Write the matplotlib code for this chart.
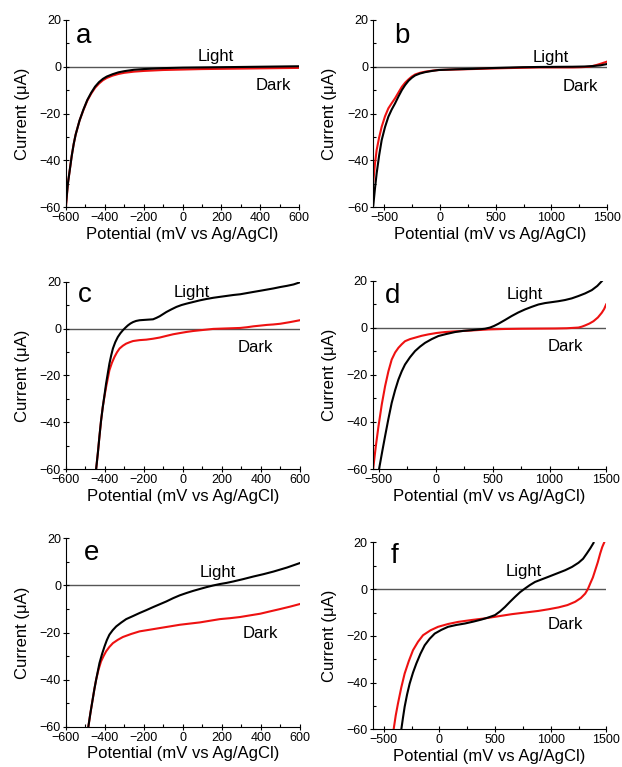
import numpy as np
import matplotlib
matplotlib.use('Agg')
import matplotlib.pyplot as plt
from matplotlib.ticker import MultipleLocator

plt.rcParams['font.family'] = ['Liberation Sans', 'DejaVu Sans']

# a
a_light_x = [-600, -590, -580, -570, -560, -550, -530, -510, -490, -470, -450, -430, -410, -390, -360, -330, -300, -250, -200, -100, 0, 100, 200, 300, 400, 500, 600]
a_light_y = [-59, -50, -44, -38, -33, -29, -23, -18.3, -14.2, -11.1, -8.5, -6.6, -5.2, -4.2, -3.2, -2.4, -1.9, -1.3, -1.0, -0.6, -0.4, -0.3, -0.2, -0.1, 0.0, 0.1, 0.2]
a_dark_x = [-600, -590, -580, -570, -560, -550, -530, -510, -490, -470, -450, -430, -410, -390, -360, -330, -300, -250, -200, -100, 0, 100, 200, 300, 400, 500, 600]
a_dark_y = [-60, -50, -44, -38, -33, -29, -23, -18.5, -14.5, -11.5, -9, -7.2, -5.8, -4.8, -3.8, -3.1, -2.6, -2.1, -1.8, -1.4, -1.2, -1.0, -0.9, -0.8, -0.7, -0.6, -0.5]

# b
b_light_x = [-599, -584, -569, -547, -524, -494, -464, -434, -404, -373, -343, -313, -283, -253, -223, -180, -132, -72, -12, 139, 289, 440, 590, 740, 891, 1040, 1192, 1300, 1373, 1440, 1494]
b_light_y = [-59.2, -52, -45.6, -38, -31.4, -25.8, -21.4, -18.3, -15.7, -12.7, -10, -7.8, -6, -4.7, -3.7, -2.9, -2.3, -1.8, -1.4, -1.1, -0.9, -0.6, -0.4, -0.2, -0.1, -0.05, 0, 0.1, 0.3, 0.6, 1.1]
b_dark_x = [-599, -584, -569, -547, -524, -494, -464, -434, -404, -373, -343, -313, -283, -253, -223, -180, -132, -72, -12, 139, 289, 440, 590, 740, 891, 1040, 1192, 1270, 1343, 1403, 1450, 1494]
b_dark_y = [-49, -41.5, -35.6, -30.3, -25.7, -21.2, -17.8, -15.6, -13.5, -11.0, -8.6, -6.8, -5.4, -4.2, -3.3, -2.6, -2.1, -1.7, -1.4, -1.2, -1.0, -0.8, -0.6, -0.45, -0.3, -0.3, -0.3, -0.2, 0, 0.7, 1.4, 2.1]

# c
c_light_x = [-445, -436, -428, -420, -411, -402, -394, -385, -377, -368, -359, -347, -334, -321, -308, -295, -282, -269, -256, -240, -222, -205, -188, -170, -153, -136, -119, -102, -85, -60, -33, -7, 19, 53, 87, 122, 156, 190, 225, 260, 294, 328, 362, 397, 431, 465, 500, 534, 568, 600]
c_light_y = [-60, -53, -46, -39.5, -33.5, -28.3, -23.5, -19, -15, -11.5, -8.5, -5.8, -3.6, -2, -0.7, 0.4, 1.4, 2.2, 2.8, 3.3, 3.6, 3.7, 3.8, 3.9, 4.0, 4.6, 5.3, 6.2, 7.1, 8.2, 9.3, 10.1, 10.7, 11.4, 12.1, 12.7, 13.2, 13.6, 14.0, 14.4, 14.7, 15.2, 15.7, 16.2, 16.7, 17.2, 17.8, 18.3, 18.9, 19.8]
c_dark_x = [-445, -436, -428, -420, -411, -402, -394, -385, -377, -364, -351, -338, -325, -308, -291, -273, -256, -222, -188, -153, -119, -85, -50, -16, 19, 53, 87, 122, 156, 190, 225, 260, 294, 328, 362, 397, 431, 465, 500, 550, 600]
c_dark_y = [-60, -53, -46, -39.5, -33.5, -28.8, -25, -21.2, -17.8, -14.6, -12.1, -10.1, -8.5, -7.3, -6.4, -5.8, -5.3, -4.9, -4.7, -4.3, -3.8, -3.1, -2.4, -1.9, -1.4, -1.0, -0.7, -0.4, -0.1, 0.0, 0.1, 0.2, 0.3, 0.6, 1.0, 1.3, 1.6, 1.8, 2.1, 2.8, 3.6]

# d
d_light_x = [-498, -470, -445, -416, -387, -357, -328, -299, -270, -226, -182, -138, -94, -35, 23, 96, 170, 243, 316, 375, 433, 477, 513, 550, 608, 667, 725, 784, 843, 902, 960, 1019, 1078, 1136, 1195, 1254, 1312, 1371, 1420, 1459]
d_light_y = [-60, -52.5, -46, -38.7, -31.9, -26.5, -22, -18.5, -15.6, -12.5, -9.9, -8.0, -6.4, -4.8, -3.5, -2.6, -1.8, -1.3, -1.0, -0.7, -0.4, 0.1, 0.8, 1.7, 3.3, 5.0, 6.5, 7.8, 8.9, 9.9, 10.5, 10.9, 11.3, 11.8, 12.5, 13.5, 14.6, 16.0, 17.8, 19.8]
d_dark_x = [-550, -527, -503, -474, -445, -416, -387, -357, -328, -299, -270, -226, -182, -124, -65, 8, 82, 170, 258, 360, 463, 610, 756, 900, 1049, 1150, 1254, 1285, 1312, 1350, 1386, 1425, 1459, 1480, 1497]
d_dark_y = [-60, -50.5, -41.8, -32.5, -24.8, -18.5, -13.5, -10.5, -8.5, -7.0, -5.7, -4.8, -4.2, -3.4, -2.8, -2.2, -1.8, -1.5, -1.3, -1.0, -0.7, -0.5, -0.4, -0.35, -0.3, -0.2, 0.1, 0.5, 1.0, 1.8, 2.8, 4.4, 6.4, 8.0, 9.9]

# e
e_light_x = [-485, -474, -463, -454, -445, -436, -428, -415, -402, -390, -377, -360, -342, -317, -291, -256, -222, -188, -153, -119, -85, -50, -16, 19, 53, 87, 122, 156, 190, 225, 259, 310, 362, 414, 465, 534, 600]
e_light_y = [-60, -54, -48.5, -44, -40, -36.3, -33, -29.2, -25.9, -23.2, -20.9, -19, -17.4, -15.8, -14.3, -13, -11.7, -10.5, -9.2, -8.0, -6.8, -5.4, -4.2, -3.2, -2.3, -1.5, -0.7, 0.0, 0.6, 1.1, 1.7, 2.7, 3.8, 4.8, 5.9, 7.6, 9.5]
e_dark_x = [-485, -474, -463, -454, -445, -433, -420, -407, -394, -377, -359, -334, -308, -265, -222, -170, -119, -67, -16, 35, 87, 138, 190, 242, 294, 345, 397, 448, 500, 550, 600]
e_dark_y = [-60, -54, -48.5, -44, -40, -35.8, -32.3, -30, -28, -26.1, -24.5, -23.1, -21.9, -20.6, -19.5, -18.8, -18.1, -17.4, -16.7, -16.2, -15.7, -15.0, -14.3, -13.9, -13.4, -12.7, -12.0, -11.0, -10.0, -9.0, -7.9]

# f
f_light_x = [-342, -327, -312, -290, -267, -237, -207, -170, -132, -87, -42, 18, 78, 153, 228, 303, 378, 440, 499, 545, 589, 634, 679, 724, 769, 814, 859, 919, 979, 1054, 1129, 1190, 1249, 1290, 1324, 1355, 1384]
f_light_y = [-60, -55, -50.3, -45, -40.4, -35.7, -31.8, -27.6, -24, -21.2, -19, -17.4, -16.1, -15.3, -14.7, -13.9, -13, -12.1, -11.1, -9.5, -7.6, -5.4, -3.3, -1.3, 0.3, 1.8, 3.1, 4.2, 5.3, 6.7, 8.1, 9.5, 11.3, 13.0, 15.3, 17.5, 19.8]
f_dark_x = [-411, -392, -372, -342, -312, -275, -237, -192, -147, -80, -12, 78, 168, 288, 408, 528, 649, 769, 889, 979, 1069, 1150, 1219, 1270, 1309, 1333, 1354, 1378, 1399, 1422, 1444, 1462, 1480]
f_dark_y = [-60, -54, -48.9, -42, -36.1, -30.8, -26.1, -22.5, -19.7, -17.6, -16.1, -14.9, -14, -13.2, -12.5, -11.6, -10.7, -10.0, -9.3, -8.6, -7.8, -6.8, -5.4, -3.8, -1.9, 0.0, 2.4, 5.0, 8.1, 11.5, 15.3, 18, 20]

panels = [
    ('a', a_light_x, a_light_y, a_dark_x, a_dark_y, (-600, 600), 200, 100, (80, 2.5), (374, -10), (0.043, 0.875)),
    ('b', b_light_x, b_light_y, b_dark_x, b_dark_y, (-600, 1500), 500, 250, (835, 2.2), (1105, -10.2), (0.089, 0.875)),
    ('c', c_light_x, c_light_y, c_dark_x, c_dark_y, (-600, 600), 200, 100, (-47, 13.6), (283, -9.9), (0.053, 0.893)),
    ('d', d_light_x, d_light_y, d_dark_x, d_dark_y, (-555, 1500), 500, 250, (624, 12.1), (987, -9.7), (0.053, 0.883)),
    ('e', e_light_x, e_light_y, e_dark_x, e_dark_y, (-600, 600), 200, 100, (86, 3.7), (306, -22.5), (0.077, 0.885)),
    ('f', f_light_x, f_light_y, f_dark_x, f_dark_y, (-600, 1500), 500, 250, (595, 5.6), (976, -17.2), (0.078, 0.888)),
]

# axes rectangles in figure fractions
rects = [
    [0.106, 0.730, 0.375, 0.244],
    [0.600, 0.730, 0.376, 0.244],
    [0.106, 0.3885, 0.376, 0.244],
    [0.599, 0.3885, 0.376, 0.2455],
    [0.106, 0.0525, 0.376, 0.2456],
    [0.599, 0.049, 0.376, 0.2438],
]

fig = plt.figure(figsize=(6.22, 7.67), dpi=100)

for rect, (lab, lx, ly, dx, dy, xlim, xmaj, xmin, lpos, dpos, letpos) in zip(rects, panels):
    ax = fig.add_axes(rect)
    ax.axhline(0, color='#555555', lw=1.0, zorder=1)
    ax.plot(lx, ly, color='black', lw=1.5, zorder=3)
    ax.plot(dx, dy, color='#ee1111', lw=1.5, zorder=2)
    ax.set_xlim(*xlim)
    ax.set_ylim(-60, 20)
    ax.spines['top'].set_visible(False)
    ax.spines['right'].set_visible(False)
    ax.xaxis.set_major_locator(MultipleLocator(xmaj))
    ax.xaxis.set_minor_locator(MultipleLocator(xmin))
    ax.yaxis.set_major_locator(MultipleLocator(20))
    ax.yaxis.set_minor_locator(MultipleLocator(10))
    ax.tick_params(which='major', direction='inout', length=5, width=0.8, labelsize=9, pad=1)
    ax.tick_params(which='minor', direction='in', length=2.5, width=0.8)
    ax.set_xlabel('Potential (mV vs Ag/AgCl)', fontsize=12, labelpad=2)
    ax.set_ylabel('Current (\u03bcA)', fontsize=12, labelpad=7)
    ax.text(lpos[0], lpos[1], 'Light', fontsize=12, ha='left', va='baseline')
    ax.text(dpos[0], dpos[1], 'Dark', fontsize=12, ha='left', va='baseline')
    ax.text(letpos[0], letpos[1], lab, fontsize=20, ha='left', va='baseline', transform=ax.transAxes)

fig.savefig('out.png', dpi=100)
